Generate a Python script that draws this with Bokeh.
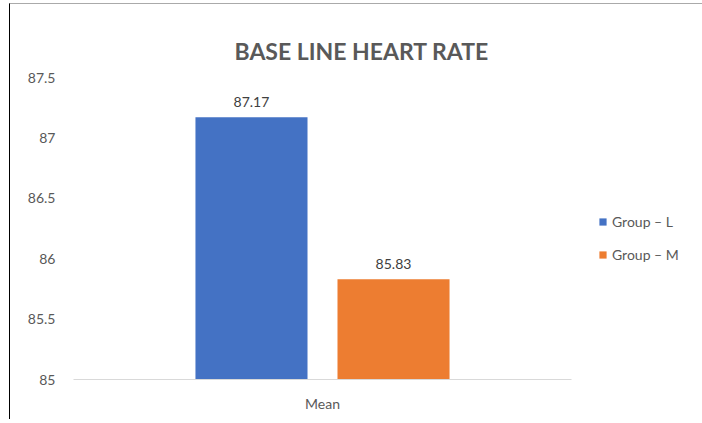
from bokeh.plotting import figure
from bokeh.models import ColumnDataSource, FactorRange, Range1d, LabelSet, Legend, LegendItem, FixedTicker
from bokeh.transform import dodge
from bokeh.core.properties import value
from bokeh.embed import file_html
from bokeh.resources import INLINE

categories = ["Mean"]
groups = ["Group \u2013 L", "Group \u2013 M"]
group_l = [87.17]
group_m = [85.83]
y_ticks = [85, 85.5, 86, 86.5, 87, 87.5]
colors = ["#4472C4", "#ED7D31"]

FONT = "Lato"
GRAY = "#595959"

p = figure(
    x_range=FactorRange(factors=categories, range_padding=0),
    y_range=Range1d(85, 87.5),
    frame_width=498, frame_height=302,
    output_backend="svg", toolbar_location=None,
    min_border_left=63, min_border_right=125, min_border_top=73, min_border_bottom=40,
    title="BASE LINE HEART RATE",
)
p.margin = (3, 0, 0, 9)
p.styles = {"border-left": "1px solid #000", "border-top": "1px solid #aaa"}

p.title.align = "left"
p.title.text_font = FONT
p.title.text_font_size = "23px"
p.title.text_font_style = "bold"
p.title.text_color = GRAY
p.title.offset = 161
p.title.standoff = 26

src_l = ColumnDataSource(dict(x=categories, y=group_l, lab=[f"{v:.2f}" for v in group_l]))
src_m = ColumnDataSource(dict(x=categories, y=group_m, lab=[f"{v:.2f}" for v in group_m]))

r1 = p.vbar(x=dodge("x", -0.1426, range=p.x_range), top="y", bottom=85, width=0.225,
            source=src_l, fill_color=colors[0], line_color=None)
r2 = p.vbar(x=dodge("x", 0.1426, range=p.x_range), top="y", bottom=85, width=0.225,
            source=src_m, fill_color=colors[1], line_color=None)

for src, off in ((src_l, -0.1426), (src_m, 0.1426)):
    p.add_layout(LabelSet(x=dodge("x", off, range=p.x_range), y="y", text="lab", source=src,
                          text_align="center", text_baseline="bottom", y_offset=10,
                          text_font=value(FONT), text_font_size=value("14px"),
                          text_color="#404040"))

legend = Legend(items=[LegendItem(label=groups[0], renderers=[r1]),
                       LegendItem(label=groups[1], renderers=[r2])],
                location=(27, 116), border_line_color=None, background_fill_alpha=0,
                label_text_font=FONT, label_text_font_size="14px", label_text_color=GRAY,
                glyph_width=9, glyph_height=9, label_standoff=5, spacing=16,
                margin=0, padding=10)
p.add_layout(legend, "right")

p.xgrid.grid_line_color = None
p.ygrid.grid_line_color = None
p.outline_line_color = None

p.yaxis.ticker = FixedTicker(ticks=y_ticks)
p.yaxis.axis_line_color = None
p.yaxis.major_tick_line_color = None
p.yaxis.minor_tick_line_color = None
p.yaxis.major_label_text_font = FONT
p.yaxis.major_label_text_font_size = "14px"
p.yaxis.major_label_text_color = GRAY
p.yaxis.major_label_standoff = 12

p.xaxis.axis_line_color = "#D9D9D9"
p.xaxis.axis_line_width = 1
p.xaxis.major_tick_line_color = None
p.xaxis.minor_tick_line_color = None
p.xaxis.major_label_text_font = FONT
p.xaxis.major_label_text_font_size = "14px"
p.xaxis.major_label_text_color = GRAY
p.xaxis.major_label_standoff = 9

open("out.html", "w").write(file_html(p, INLINE))
